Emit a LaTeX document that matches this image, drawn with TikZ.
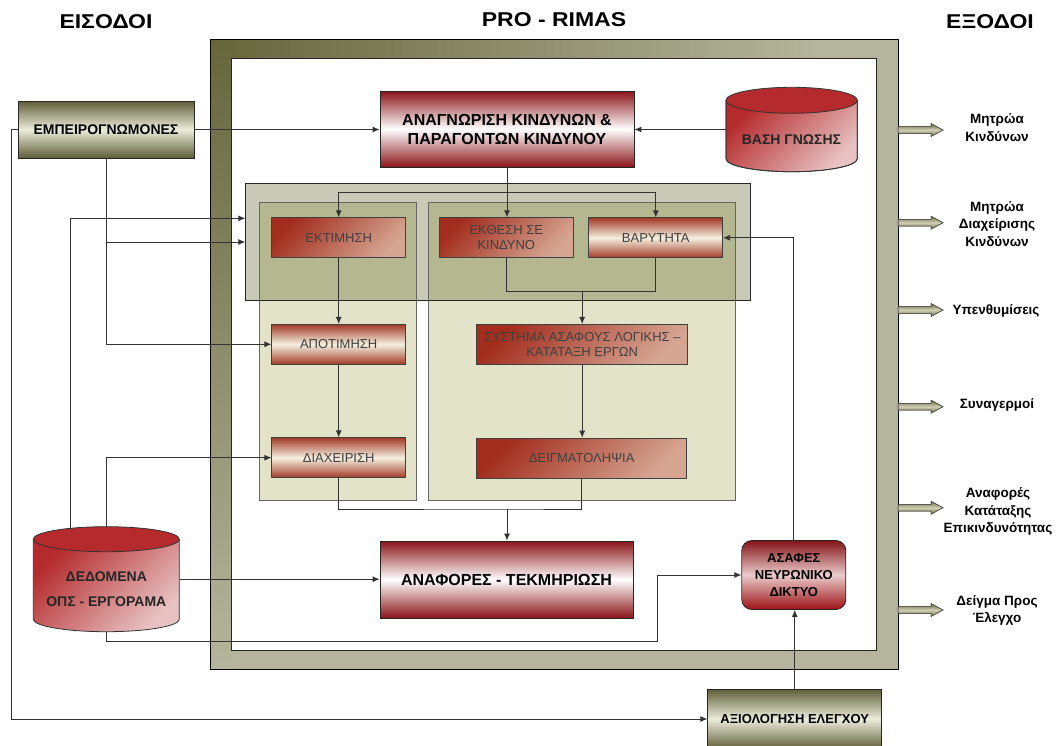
\documentclass[tikz,border=0pt]{standalone}
\usepackage{fontspec}
\setmainfont{Liberation Sans}
\usepackage{graphicx}
\usetikzlibrary{arrows.meta,calc}
\definecolor{framedark}{HTML}{66663C}
\definecolor{framelight}{HTML}{B4B59C}
\definecolor{rdark}{HTML}{8A1418}
\definecolor{odark}{HTML}{5E5E38}
\definecolor{olight}{HTML}{ECECDC}
\definecolor{bdark}{HTML}{A32E1E}
\definecolor{blight}{HTML}{D6A592}
\definecolor{cdark}{HTML}{A23A26}
\definecolor{clight}{HTML}{F4F0E0}
\definecolor{cylred}{HTML}{B52A2C}
\definecolor{cylpink}{HTML}{E8C2C2}
\definecolor{panelgray}{HTML}{C9C9B7}
\definecolor{coldark}{HTML}{B5B791}
\definecolor{collight}{HTML}{E3E3CA}
\definecolor{arrdark}{HTML}{6E6E46}
\definecolor{arrlight}{HTML}{CFCFB4}
\begin{document}
\begin{tikzpicture}[x=1pt,y=-1pt,
  titletext/.style={font=\fontsize{20}{24}\selectfont\bfseries, inner sep=0pt},
  redbox/.style={draw=black!85, line width=0.8pt, top color=rdark, bottom color=rdark, middle color=white,
    font=\fontsize{16}{19}\selectfont\bfseries, align=center, inner sep=0pt},
  olivebox/.style={draw=black!85, line width=0.8pt, top color=odark, bottom color=odark, middle color=olight,
    font=\fontsize{14}{17}\selectfont\bfseries, align=center, inner sep=0pt},
  diagbox/.style={draw=black!75, line width=0.7pt, top color=bdark, bottom color=blight, shading angle=45,
    font=\fontsize{13}{15}\selectfont, text=black!75, align=center, inner sep=0pt,
    minimum height=40pt},
  bandbox/.style={draw=black!75, line width=0.7pt, top color=cdark, bottom color=cdark, middle color=clight,
    font=\fontsize{13}{15}\selectfont, text=black!75, align=center, inner sep=0pt,
    minimum height=40pt},
  outlabel/.style={font=\fontsize{13.5}{17.5}\selectfont\bfseries, align=center, inner sep=0pt},
  cyltext/.style={font=\fontsize{14}{17}\selectfont\bfseries, align=center, inner sep=0pt, text=black!85},
  conn/.style={draw=black!80, line width=0.9pt},
  arr/.style={conn, -{Latex[length=7pt,width=6pt]}},
  outarrow/.style={draw=black!70, line width=0.5pt, top color=arrdark, bottom color=arrdark, middle color=arrlight}
]
\useasboundingbox (0,0) rectangle (1058,745);
\fill[white] (0,0) rectangle (1058,745);

% titles
\node[titletext] (tin) at (106,22) {\scalebox{1.15}[1]{ΕΙΣΟΔΟΙ}};
\node[titletext] (tpro) at (554,20) {\scalebox{1.15}[1]{PRO - RIMAS}};
\node[titletext] (tout) at (990,22) {\scalebox{1.15}[1]{ΕΞΟΔΟΙ}};

% main frame
\fill[framelight] (210,39.5) rectangle (898,669.5);
\shade[left color=framedark, right color=framelight] (210,39.5) rectangle (820,58.3);
\shade[top color=framedark, bottom color=framelight] (210,39.5) rectangle (231.7,669.5);
\draw[black, line width=0.9pt] (210,39.5) rectangle (898,669.5);
\filldraw[fill=white, draw=black!85, line width=0.9pt] (231.7,58.3) rectangle (876.7,650.7);

% output arrows
\foreach \yy in {130,222.7,310,406.7,507.7,610}{
  \shade[outarrow] (898,\yy-3.3) -- (931,\yy-3.3) -- (931,\yy-6.5) -- (943,\yy) -- (931,\yy+6.5) -- (931,\yy+3.3) -- (898,\yy+3.3) -- cycle;
  \draw[draw=black!70, line width=0.5pt] (898,\yy-3.3) -- (931,\yy-3.3) -- (931,\yy-6.5) -- (943,\yy) -- (931,\yy+6.5) -- (931,\yy+3.3) -- (898,\yy+3.3) -- cycle;
}
\node[outlabel] (o1) at (997,127.5) {Μητρώα\\Κινδύνων};
\node[outlabel] (o2) at (997,224) {Μητρώα\\Διαχείρισης\\Κινδύνων};
\node[outlabel] (o3) at (996,310.5) {Υπενθυμίσεις};
\node[outlabel] (o4) at (997,405) {Συναγερμοί};
\node[outlabel] (o5) at (998,511.7) {Αναφορές\\Κατάταξης\\Επικινδυνότητας};
\node[outlabel] (o6) at (997,610.5) {Δείγμα Προς\\Έλεγχο};

% panels
\node[fill=panelgray, minimum width=504.5pt, minimum height=116.5pt, inner sep=0pt] (panel) at (497.75,241.75) {};
\node[fill=collight, minimum width=156pt, minimum height=298pt, inner sep=0pt] (colL) at (338,351.5) {};
\node[fill=collight, minimum width=306pt, minimum height=298pt, inner sep=0pt] (colR) at (582,351.5) {};
\fill[coldark] (colL.north west) rectangle (colL.east |- panel.south);
\fill[coldark] (colR.north west) rectangle (colR.east |- panel.south);
\draw[black!85, line width=0.8pt] (panel.north west) rectangle (panel.south east);
\draw[black!60, line width=1.3pt] (colL.north west) rectangle (colL.south east);
\draw[black!60, line width=1.3pt] (colR.north west) rectangle (colR.south east);

% main nodes
\node[olivebox, minimum width=176pt, minimum height=57pt] (emp) at (106,129.5) {ΕΜΠΕΙΡΟΓΝΩΜΟΝΕΣ};
\node[redbox, minimum width=254pt, minimum height=76pt] (anag) at (507,129) {ΑΝΑΓΝΩΡΙΣΗ ΚΙΝΔΥΝΩΝ \&\\ΠΑΡΑΓΟΝΤΩΝ ΚΙΝΔΥΝΟΥ};
\node[redbox, minimum width=253pt, minimum height=77pt] (anaf) at (506.5,579.5) {ΑΝΑΦΟΡΕΣ - ΤΕΚΜΗΡΙΩΣΗ};
\node[redbox, rounded corners=10pt, minimum width=104pt, minimum height=69pt, top color=rdark!95!black, bottom color=rdark!85!red, middle color=cylpink!85!white,
  font=\fontsize{13}{17}\selectfont\bfseries] (asaf) at (793.8,575) {ΑΣΑΦΕΣ\\ΝΕΥΡΩΝΙΚΟ\\ΔΙΚΤΥΟ};
\node[olivebox, minimum width=174pt, minimum height=60pt, font=\fontsize{13}{16}\selectfont\bfseries] (axiol) at (794.7,719) {ΑΞΙΟΛΟΓΗΣΗ ΕΛΕΓΧΟΥ};

\node[diagbox, minimum width=134pt] (ektim) at (338.7,237.7) {ΕΚΤΙΜΗΣΗ};
\node[diagbox, minimum width=134pt] (ekth) at (506.3,237.7) {ΕΚΘΕΣΗ ΣΕ\\ΚΙΝΔΥΝΟ};
\node[bandbox, minimum width=134pt] (var) at (655.8,237.8) {ΒΑΡΥΤΗΤΑ};
\node[bandbox, minimum width=134pt] (apot) at (338.7,344.3) {ΑΠΟΤΙΜΗΣΗ};
\node[diagbox, minimum width=211pt] (syst) at (582.2,344.3) {ΣΥΣΤΗΜΑ ΑΣΑΦΟΥΣ ΛΟΓΙΚΗΣ –\\ΚΑΤΑΤΑΞΗ ΕΡΓΩΝ};
\node[bandbox, minimum width=134pt] (diax) at (338.7,457.7) {ΔΙΑΧΕΙΡΙΣΗ};
\node[diagbox, minimum width=210pt] (deigm) at (581.7,458) {ΔΕΙΓΜΑΤΟΛΗΨΙΑ};

% cylinders
\shade[top color=cylred, bottom color=cylpink, shading angle=45, draw=black!80, line width=0.8pt]
  (726,100.3) -- (726,158.7) arc[start angle=180, end angle=360, x radius=65.65pt, y radius=13pt] -- (857.3,100.3) -- cycle;
\draw[black!80, line width=0.8pt] (726,100.3) -- (726,158.7) arc[start angle=180, end angle=360, x radius=65.65pt, y radius=13pt] -- (857.3,100.3);
\filldraw[fill=cylred, draw=black!80, line width=0.8pt] (791.65,100.3) ellipse[x radius=65.65pt, y radius=13pt];
\node[minimum width=131.3pt, minimum height=84.4pt, inner sep=0pt] (vasi) at (791.65,129.5) {};
\node[cyltext] (vasit) at (791.5,140) {ΒΑΣΗ ΓΝΩΣΗΣ};

\shade[top color=cylred, bottom color=cylpink, shading angle=45]
  (33.3,539.2) -- (33.3,619.2) arc[start angle=180, end angle=360, x radius=73pt, y radius=12.5pt] -- (179.3,539.2) -- cycle;
\draw[black!80, line width=0.8pt] (33.3,539.2) -- (33.3,619.2) arc[start angle=180, end angle=360, x radius=73pt, y radius=12.5pt] -- (179.3,539.2);
\filldraw[fill=cylred, draw=black!80, line width=0.8pt] (106.3,539.2) ellipse[x radius=73pt, y radius=12.5pt];
\node[minimum width=146pt, minimum height=105pt, inner sep=0pt] (dedom) at (106.3,579.2) {};
\node[cyltext] (dedomt) at (106.3,589) {ΔΕΔΟΜΕΝΑ\\[8.5pt]ΟΠΣ - ΕΡΓΟΡΑΜΑ};

% connectors
\draw[arr] (emp.east) -- (emp.east -| anag.west);
\draw[arr] (vasi.west) -- (vasi.west -| anag.east);
\draw[arr] (anag.south) -- (anag.south |- ekth.north);
\coordinate (br) at (507,192.7);
\draw[arr] (br) -| (ektim.north);
\draw[arr] (br) -| (var.north);
\draw[arr] (ektim.south) -- (apot.north);
\draw[arr] (apot.south) -- (diax.north);
\coordinate (j1) at (582.2,291.7);
\draw[conn] (ekth.south) |- (j1) -| (var.south);
\draw[arr] (j1) -- (syst.north);
\draw[arr] (syst.south) -- (syst.south |- deigm.north);
\coordinate (j2) at (507,509);
\draw[conn] (diax.south) |- (j2) -| (deigm.south);
\draw[arr] (j2) -- (j2 |- anaf.north);
\draw[arr] (asaf.north) |- (var.east);
\draw[arr] (axiol.north) -- (axiol.north |- asaf.south);
\coordinate (j3) at (657.3,641.7);
\draw[arr] (dedom.south) |- (j3) |- (asaf.west);
\draw[arr] (dedom.east) -- (dedom.east -| anaf.west);
\coordinate (j4) at (11.3,129.5);
\draw[arr] (emp.west) -- (j4) |- (axiol.west);
\draw[arr] (emp.south) |- (apot.west);
\coordinate (j5) at (106,242);
\draw[arr] (j5) -- (j5 -| panel.west);
\coordinate (dtop) at (70.3,528.5);
\coordinate (j6) at (70.3,218.3);
\draw[arr] (dtop) -- (j6) -- (j6 -| panel.west);
\draw[arr] (dedom.north) |- (diax.west);
\end{tikzpicture}
\end{document}
